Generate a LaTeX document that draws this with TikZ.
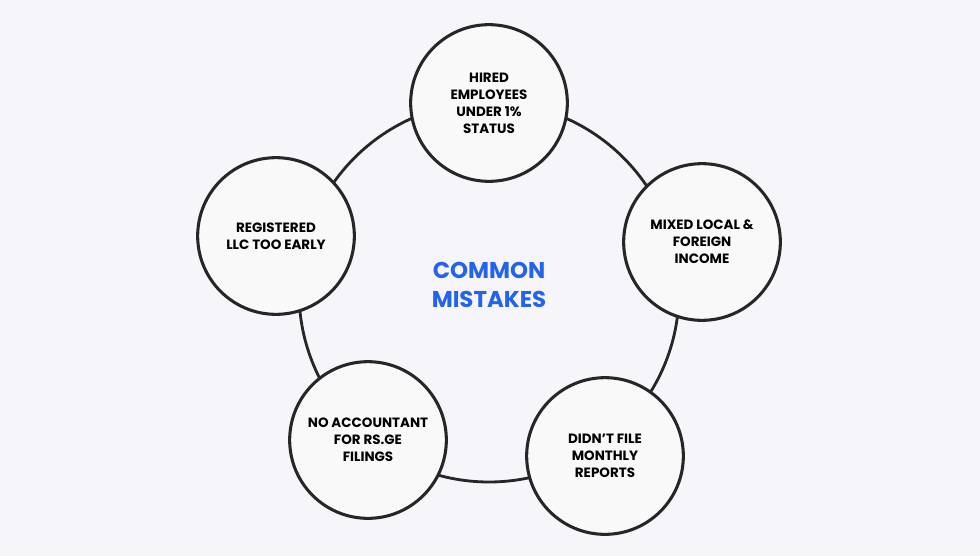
\documentclass[tikz,border=0pt]{standalone}
\usepackage{fontspec}
\setmainfont{Poppins}
\usepackage{tikz}
\usetikzlibrary{positioning}
\definecolor{bgtint}{RGB}{246, 246, 250}
\definecolor{darkline}{RGB}{38, 38, 40}
\definecolor{bubble}{RGB}{249, 249, 250}
\definecolor{accent}{RGB}{36, 99, 235}

\begin{document}
\begin{tikzpicture}[
    x=0.03cm, y=-0.03cm,
    mistake/.style={circle, draw=darkline, line width=2.6pt, fill=bubble,
                    minimum size=4.7cm, align=center,
                    font=\fontsize{11.5}{14.5}\selectfont\bfseries},
    ring/.style={draw=darkline, line width=2.4pt}
]
\fill[bgtint] (0,0) rectangle (980,556);
\useasboundingbox (0,0) rectangle (980,556);

% Ring
\coordinate (hub) at (489,292);
\draw[ring] (hub) circle (190);

% Mistakes
\node[mistake] (hired) at (489,103) {HIRED\\EMPLOYEES\\UNDER 1\%\\STATUS};
\node[mistake] (mixed) at (702,242) {MIXED LOCAL \&\\FOREIGN\\INCOME};
\node[mistake] (didnt) at (605,456) {DIDN’T FILE\\MONTHLY\\REPORTS};
\node[mistake] (noacc) at (368,440) {NO ACCOUNTANT\\FOR RS.GE\\FILINGS};
\node[mistake] (early) at (276,236) {REGISTERED\\LLC TOO EARLY};

% Centre
\node[font=\fontsize{19.5}{25.5}\selectfont\bfseries, text=accent, align=center] (title) at (489,285) {COMMON\\MISTAKES};
\end{tikzpicture}
\end{document}
